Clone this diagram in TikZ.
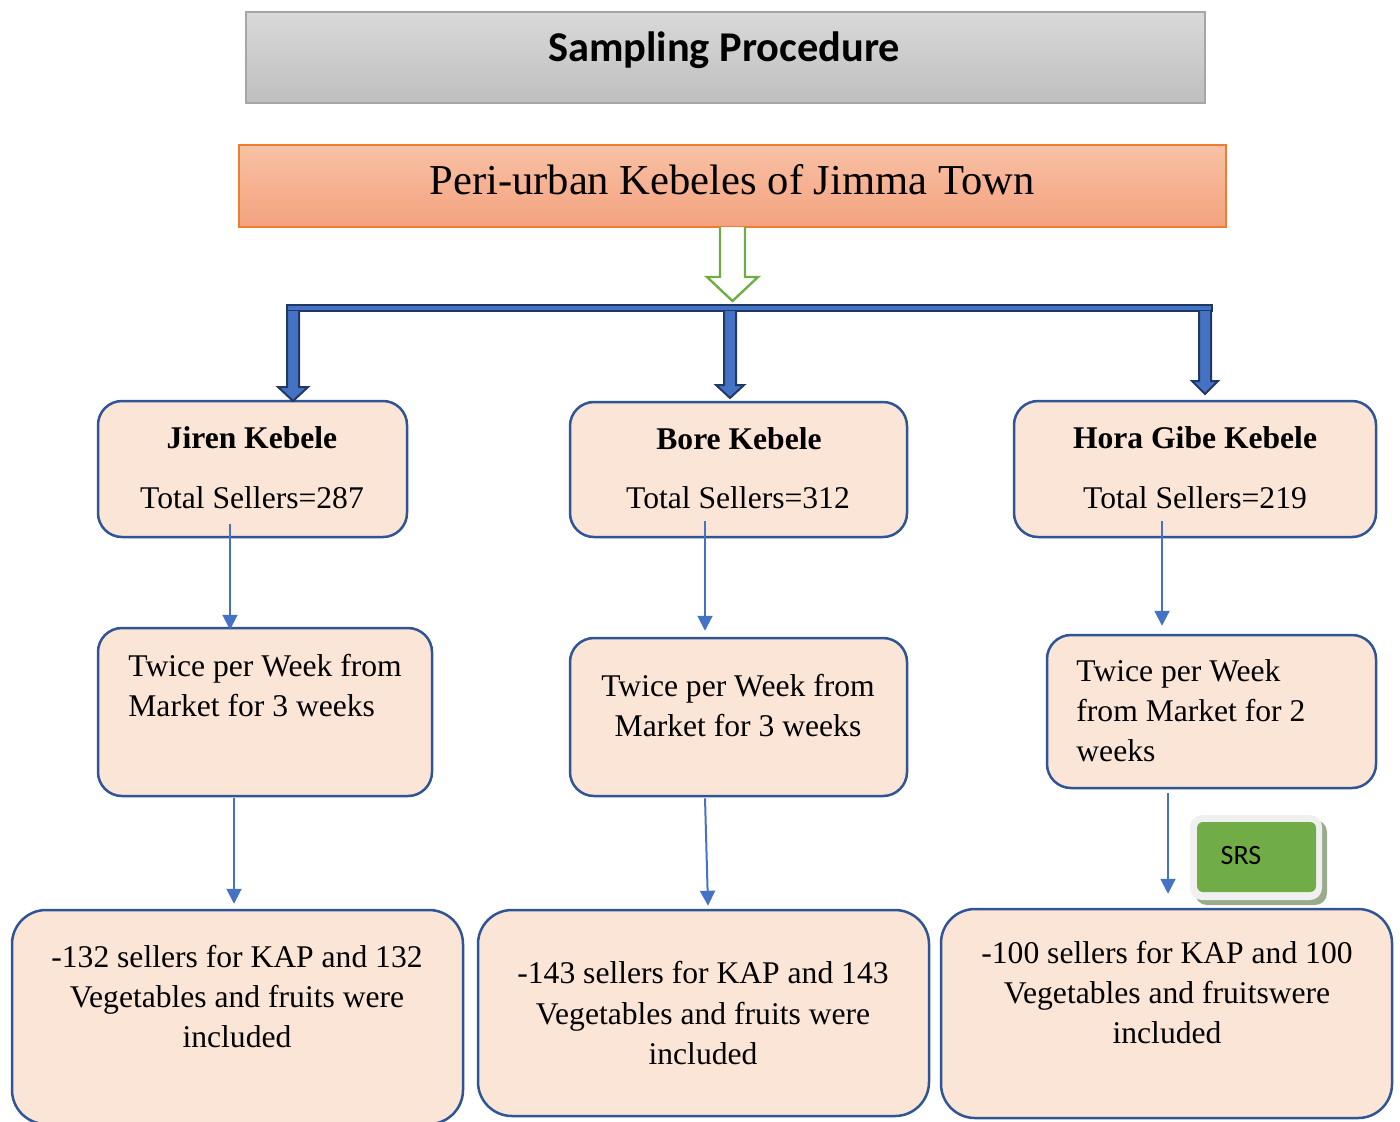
\documentclass[tikz,border=0pt]{standalone}
\usepackage{fontspec}
\setmainfont{Liberation Serif}
\newfontfamily\calibri{Carlito}
\usetikzlibrary{arrows.meta}
\definecolor{boxfill}{HTML}{FBE5D6}
\definecolor{boxline}{HTML}{2F5597}
\definecolor{arrblue}{HTML}{4472C4}
\definecolor{bardark}{HTML}{203864}
\definecolor{mygreen}{HTML}{70AD47}
\definecolor{orangeline}{HTML}{ED7D31}
\definecolor{salmontop}{HTML}{F8C1A4}
\definecolor{salmonbot}{HTML}{F4A27F}
\definecolor{graytop}{HTML}{D9D9D9}
\definecolor{graybot}{HTML}{BFBFBF}
\definecolor{grayline}{HTML}{A6A6A6}
\begin{document}
\begin{tikzpicture}[x=0.5pt,y=-0.5pt,
  kbox/.style={draw=boxline, line width=1.25pt, fill=boxfill, rounded corners=12pt, inner sep=0pt},
  bigbox/.style={kbox, rounded corners=17pt},
  txt/.style={inner sep=0pt, font=\fontsize{15.8}{20}\selectfont},
  tarrow/.style={draw=arrblue, line width=1pt, -{Triangle[width=7.5pt,length=7.5pt]}},
  barstyle/.style={fill=arrblue, draw=bardark, line width=1pt, line join=miter}]
\useasboundingbox (0,0) rectangle (1400,1121);
\clip (0,0) rectangle (1400,1121);

% title
\node[draw=grayline, line width=0.8pt, top color=graytop, bottom color=graybot, inner sep=0pt,
  minimum width=479.5pt, minimum height=45.5pt] (title) at (725.5,57.5) {};
\node[inner sep=0pt, font=\calibri\bfseries\fontsize{21.2}{25}\selectfont] (titlet) at (724,50) {Sampling Procedure};

% peri-urban
\node[draw=orangeline, line width=0.6pt, top color=salmontop, bottom color=salmonbot, inner sep=0pt,
  minimum width=493.5pt, minimum height=41pt] (peri) at (732.5,186) {};
\node[inner sep=0pt, font=\fontsize{21.3}{26}\selectfont] (perit) at (732,180) {Peri-urban Kebeles of Jimma Town};

% hollow green arrow
\draw[draw=mygreen, fill=white, line width=1.2pt, line join=miter]
  (720,227) -- (720,277) -- (707,277) -- (732.5,301) -- (758,277) -- (745,277) -- (745,227);

% boxes row 1
\node[kbox, minimum width=154.5pt, minimum height=68pt] (j1) at (252.5,469) {};
\node[kbox, minimum width=168.5pt, minimum height=67.5pt] (b1) at (738.5,469.5) {};
\node[kbox, minimum width=181pt, minimum height=68pt] (h1) at (1195,469) {};
% row 2
\node[kbox, minimum width=167pt, minimum height=84pt] (j2) at (265,712) {};
\node[kbox, minimum width=168.5pt, minimum height=79pt] (b2) at (738.5,717) {};
\node[kbox, minimum width=164.5pt, minimum height=76.5pt] (h2) at (1211.5,711.5) {};
% row 3
\node[bigbox, minimum width=225.5pt, minimum height=107pt] (j3) at (237.5,1017) {};
\node[bigbox, minimum width=225.5pt, minimum height=103pt] (b3) at (703.5,1013) {};
\node[bigbox, minimum width=225.5pt, minimum height=104.5pt] (h3) at (1166.5,1013.5) {};

% blue distribution bar
\path[barstyle] (287,305) rectangle (1212,311);
\path[barstyle] (287,311) -- (287,387) -- (278,387) -- (293,401) -- (308,387) -- (299,387) -- (299,311);
\path[barstyle] (724,311) -- (724,385) -- (716,385) -- (730,398) -- (744,385) -- (736,385) -- (736,311);
\path[barstyle] (1199,311) -- (1199,381) -- (1192,381) -- (1205,394) -- (1218,381) -- (1211,381) -- (1211,311);

% texts row 1
\node[txt, font=\fontsize{15.8}{20}\selectfont\bfseries] (j1a) at (252,438) {Jiren Kebele};
\node[txt] (j1b) at (252,498) {Total Sellers=287};
\node[txt, font=\fontsize{15.8}{20}\selectfont\bfseries] (b1a) at (739,439) {Bore Kebele};
\node[txt] (b1b) at (738,498) {Total Sellers=312};
\node[txt, font=\fontsize{15.8}{20}\selectfont\bfseries] (h1a) at (1195,438) {Hora Gibe Kebele};
\node[txt] (h1b) at (1195,498) {Total Sellers=219};
% texts row 2
\node[txt, align=left, anchor=west] (j2t) at (128,686) {Twice per Week from\\Market for 3 weeks};
\node[txt, align=center] (b2t) at (738,706) {Twice per Week from\\Market for 3 weeks};
\node[txt, align=left, anchor=west] (h2t) at (1076,711) {Twice per Week\\from Market for 2\\weeks};
% texts row 3
\node[txt, align=center] (j3t) at (237,997) {-132 sellers for KAP and 132\\Vegetables and fruits were\\included};
\node[txt, align=center] (b3t) at (703,1013) {-143 sellers for KAP and 143\\Vegetables and fruits were\\included};
\node[txt, align=center] (h3t) at (1167,993) {-100 sellers for KAP and 100\\Vegetables and fruitswere\\included};

% thin arrows
\draw[tarrow] ([xshift=-11.25pt,yshift=7pt]j1.south) -- ([xshift=-17.5pt,yshift=-1.5pt]j2.north);
\draw[tarrow] ([xshift=-16.75pt,yshift=8.5pt]b1.south) -- ([xshift=-16.75pt,yshift=3pt]b2.north);
\draw[tarrow] ([xshift=-16.5pt,yshift=8.5pt]h1.south) -- ([xshift=-24.75pt,yshift=4pt]h2.north);
\draw[tarrow] ([xshift=-15.5pt,yshift=-0.5pt]j2.south) -- ([xshift=-1.75pt,yshift=2.5pt]j3.north);
\draw[tarrow] ([xshift=-16.75pt,yshift=-0.5pt]b2.south) -- ([xshift=2.25pt,yshift=1.5pt]b3.north);
\draw[tarrow] ([xshift=-21.75pt,yshift=-2pt]h2.south) -- ([xshift=0.75pt,yshift=7pt]h3.north);

% SRS
\fill[color={rgb,255:red,154;green,171;blue,140}, rounded corners=6pt] (1195,820) rectangle (1327,905);
\fill[color={rgb,255:red,240;green,240;blue,240}, rounded corners=6pt] (1190,815) rectangle (1322,900);
\node[fill=mygreen, rounded corners=3pt, inner sep=0pt, minimum width=59.5pt, minimum height=35pt] (srs) at (1256.5,857) {};
\node[inner sep=0pt, font=\calibri\fontsize{14}{17}\selectfont] (srst) at (1241,855) {SRS};
\end{tikzpicture}
\end{document}
